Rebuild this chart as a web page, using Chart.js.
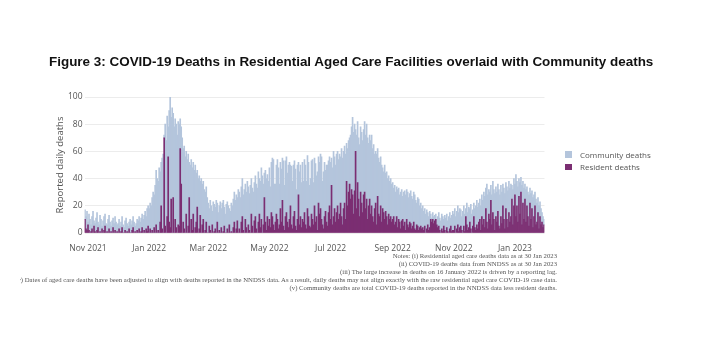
<!DOCTYPE html>
<html><head><meta charset="utf-8">
<script src="https://cdn.jsdelivr.net/npm/chart.js@4.4.1/dist/chart.umd.min.js"></script>
<style>
html,body{margin:0;padding:0;background:#fff;width:702px;height:342px;overflow:hidden;}
#wrap{position:relative;width:702px;height:342px;}
#c{position:absolute;left:0;top:0;}
#title{position:absolute;left:49px;top:54px;white-space:nowrap;font-family:"Liberation Sans",Arial,sans-serif;font-weight:bold;color:#111;font-size:12.5px;line-height:16px;}
#legend{position:absolute;left:565px;top:148px;font-family:"Open Sans",sans-serif;font-size:8px;color:#555;}
.li{display:flex;align-items:center;height:12.5px;}
.sw{width:6.5px;height:6.5px;margin-right:8.5px;}
#notes{position:absolute;left:20px;top:252px;width:537px;overflow:hidden;font-family:"Liberation Serif","Times New Roman",serif;color:#555;}
#notes .ln{display:flex;justify-content:flex-end;height:8px;line-height:8px;}
#notes .ln span{white-space:nowrap;flex:none;}
</style>
</head><body>
<div id="wrap">
<canvas id="c" width="702" height="342"></canvas>
<div id="title">Figure 3: COVID-19 Deaths in Residential Aged Care Facilities overlaid with Community deaths</div>
<div id="legend"></div>
<div id="notes"></div>
</div>
<script>
// ---- Data (daily, from 29 Oct 2021 to 30 Jan 2023) ----
const startDate = '2021-10-29';
const residentOct21 = [10,3,2];
const communityOct21 = [7,9,14];
const residentNov21 = [6,2,0,1,3,0,5,1,0,2,4,0,1,0,3,0,2,5,0,1,0,3,0,1,0,4,0,2,0,1];
const communityNov21 = [2,12,10,5,9,16,4,6,11,13,4,6,12,10,2,9,10,9,7,5,10,10,8,4,9,7,7,10,8,5];
const residentDec21 = [0,3,0,1,4,0,0,2,0,1,0,3,0,0,2,4,0,1,0,2,0,3,0,1,4,0,2,0,3,1,5];
const communityDec21 = [7,7,5,7,8,6,4,7,11,6,5,5,10,6,7,8,8,4,7,8,9,9,8,10,10,10,11,16,9,17,15];
const residentJan22 = [0,3,0,2,0,4,0,6,0,2,0,8,20,3,0,70,5,0,12,56,8,4,25,0,26,0,10,4,0,6,5];
const communityJan22 = [18,19,20,24,30,24,35,40,40,36,48,37,32,52,58,2,75,68,74,22,82,96,60,92,62,78,74,76,72,76,75];
const residentFeb22 = [62,36,0,8,3,0,14,0,5,26,0,10,2,14,0,4,8,19,0,3,13,0,6,10,0,2,8,0];
const communityFeb22 = [22,42,70,54,61,56,46,54,53,26,50,44,46,38,46,46,36,27,40,39,25,40,30,28,32,28,26,26];
const residentMar22 = [0,5,2,0,6,0,1,3,0,8,0,2,0,4,0,1,5,0,0,3,0,6,0,1,0,4,8,0,3,9,0];
const communityMar22 = [22,13,22,20,10,23,20,16,24,14,15,18,23,14,22,23,14,14,21,20,20,12,16,21,20,21,22,24,25,17,32];
const residentApr22 = [3,0,8,12,2,0,10,4,0,6,2,0,14,5,0,9,12,3,0,8,14,4,10,0,6,26,8,2,12,5];
const communityApr22 = [27,26,26,28,26,32,26,26,38,28,27,35,26,28,30,28,30,33,33,37,26,34,38,42,30,18,38,38,31,33];
const residentMay22 = [10,4,15,12,6,2,8,14,10,3,6,18,8,24,5,2,12,15,8,4,10,20,6,3,12,16,5,2,10,28,6];
const communityMay22 = [38,30,37,43,48,34,28,36,44,45,30,34,39,31,48,33,41,41,36,46,42,30,43,35,38,37,42,30,40,24,39];
const residentJun22 = [12,4,10,8,15,6,3,18,12,5,4,14,10,6,20,8,12,2,22,14,18,10,6,3,12,16,8,5,15,20];
const communityJun22 = [38,33,42,30,39,44,35,39,40,30,36,39,44,31,35,43,30,43,34,38,40,46,32,42,40,30,42,45,38,36];
const residentJul22 = [10,35,6,12,18,8,15,20,10,14,22,12,6,18,22,10,38,20,30,36,25,32,28,14,31,60,18,37,25,12,30];
const communityJul22 = [42,20,42,48,38,42,43,40,44,44,34,50,49,42,42,48,28,42,38,34,47,46,57,60,49,16,54,45,45,53,48];
const residentAug22 = [22,15,28,30,18,25,10,20,25,14,20,12,8,18,22,6,27,14,12,20,8,18,15,10,16,12,6,14,10,12,8];
const communityAug22 = [52,53,48,52,54,55,60,46,47,54,52,50,57,40,38,52,35,41,40,36,42,30,30,40,28,33,34,28,28,28,28];
const residentSep22 = [10,12,6,8,12,4,10,8,3,9,10,5,8,2,10,6,4,8,7,3,5,8,3,2,6,5,2,4,5,3];
const communitySep22 = [27,21,29,22,22,28,23,20,27,23,17,25,23,26,22,24,22,21,24,24,20,22,25,22,16,21,23,16,17,15];
const residentOct22 = [4,2,5,0,3,6,2,4,10,8,10,7,9,10,6,4,5,2,0,3,1,5,2,0,4,1,0,3,5,1,2];
const communityOct22 = [16,14,13,14,14,9,10,12,4,3,5,5,4,4,4,8,10,9,9,11,11,5,11,11,10,8,12,12,6,12,14];
const residentNov22 = [2,5,0,3,6,1,4,5,2,0,5,1,12,6,2,4,8,3,0,5,12,4,2,6,3,8,10,2,12,6];
const communityNov22 = [12,13,12,13,14,14,14,12,10,16,15,13,6,16,13,15,10,18,14,12,10,14,18,18,16,14,15,18,16,18];
const residentDec22 = [10,4,18,8,3,14,10,24,6,15,10,2,12,8,16,5,3,12,7,20,10,3,18,10,4,15,8,12,25,6,20];
const communityDec22 = [20,23,15,28,25,18,20,11,22,23,22,27,22,22,20,27,25,23,23,16,23,26,19,24,27,23,25,24,10,26,20];
const residentJan23 = [28,12,20,8,27,14,30,6,22,10,25,8,20,12,5,22,10,18,4,12,20,6,8,15,3,12,6,8,4,6];
const communityJan23 = [8,31,18,26,13,23,11,29,16,23,11,24,14,18,23,11,19,13,22,16,10,19,14,11,17,11,12,7,8,4];

const tickDates = ['2021-11-01','2022-01-01','2022-03-01','2022-05-01','2022-07-01','2022-09-01','2022-11-01','2023-01-01'];
const tickLabels = ['Nov 2021','Jan 2022','Mar 2022','May 2022','Jul 2022','Sep 2022','Nov 2022','Jan 2023'];
const yTicks = [0,20,40,60,80,100];

const seriesNames = ['Resident deaths','Community deaths'];
const seriesColors = ['#7b2e72','#b4c5dc'];

const notesLines = [
  'Notes: (i) Residential aged care deaths data as at 30 Jan 2023',
  '(ii) COVID-19 deaths data from NNDSS as at 30 Jan 2023',
  '(iii) The large increase in deaths on 16 January 2022 is driven by a reporting lag.',
  '(iv) Dates of aged care deaths have been adjusted to align with deaths reported in the NNDSS data. As a result, daily deaths may not align exactly with the raw residential aged care COVID-19 case data.',
  '(v) Community deaths are total COVID-19 deaths reported in the NNDSS data less resident deaths.'
];

const residentDeaths = [].concat(residentOct21,residentNov21,residentDec21,residentJan22,residentFeb22,residentMar22,residentApr22,residentMay22,residentJun22,residentJul22,residentAug22,residentSep22,residentOct22,residentNov22,residentDec22,residentJan23);
const communityDeaths = [].concat(communityOct21,communityNov21,communityDec21,communityJan22,communityFeb22,communityMar22,communityApr22,communityMay22,communityJun22,communityJul22,communityAug22,communitySep22,communityOct22,communityNov22,communityDec22,communityJan23);

// categories: consecutive days
const categories = [];
{
  const d0 = new Date(startDate + 'T00:00:00Z');
  for (let i = 0; i < residentDeaths.length; i++) {
    const d = new Date(d0.getTime() + i * 86400000);
    categories.push(d.toISOString().slice(0,10));
  }
}

// ---- text fitting ----
function measure(text, font){ const c=document.createElement('canvas').getContext('2d'); c.font=font; return c.measureText(text).width; }
(function(){
  const t = document.getElementById('title');
  const w = measure(t.textContent, 'bold 100px "Liberation Sans"');
  t.style.fontSize = (605/w*100) + 'px';
  const notes = document.getElementById('notes');
  const w4 = measure(notesLines[3], '100px "Liberation Serif"');
  const fs = 545/w4*100;
  notes.style.fontSize = fs + 'px';
  notesLines.forEach(s=>{ const d=document.createElement('div'); d.className='ln'; const sp=document.createElement('span'); sp.textContent=s; d.appendChild(sp); notes.appendChild(d); });
  const lg = document.getElementById('legend');
  [1,0].forEach(i=>{ const d=document.createElement('div'); d.className='li'; d.innerHTML='<span class="sw" style="background:'+seriesColors[i]+'"></span><span>'+seriesNames[i]+'</span>'; lg.appendChild(d); });
})();

const tickFont = {family:'"Open Sans", sans-serif', size:8.5};
new Chart(document.getElementById('c'), {
  type:'bar',
  data:{
    labels:categories,
    datasets:[
      {label:seriesNames[0], data:residentDeaths, backgroundColor:seriesColors[0], stack:'s'},
      {label:seriesNames[1], data:communityDeaths, backgroundColor:seriesColors[1], stack:'s'}
    ]
  },
  options:{
    responsive:false, animation:false,
    layout:{padding:{left:44.5, right:157.5, top:97, bottom:89}},
    plugins:{legend:{display:false}, tooltip:{enabled:false}, title:{display:false}},
    datasets:{bar:{barPercentage:1, categoryPercentage:1, borderWidth:0}},
    scales:{
      x:{
        stacked:true,
        grid:{display:false}, border:{display:false},
        ticks:{autoSkip:false, maxRotation:0, minRotation:0, padding:2, color:'#555', font:tickFont,
          callback:function(v,i){ const k=tickDates.indexOf(categories[i]); return k>=0 ? tickLabels[k] : null; }},
        afterFit:function(s){ s.height = 20; }
      },
      y:{
        stacked:true, min:yTicks[0], max:yTicks[yTicks.length-1],
        ticks:{stepSize:20, padding:2, color:'#555', font:tickFont},
        grid:{color:'#ececec', drawTicks:false}, border:{display:false},
        title:{display:true, text:'Reported daily deaths', color:'#555', font:{family:'"Open Sans", sans-serif', size:9.5}, padding:{top:10,bottom:0}},
        afterFit:function(s){ s.width = 40; }
      }
    }
  }
});
</script>
</body></html>
